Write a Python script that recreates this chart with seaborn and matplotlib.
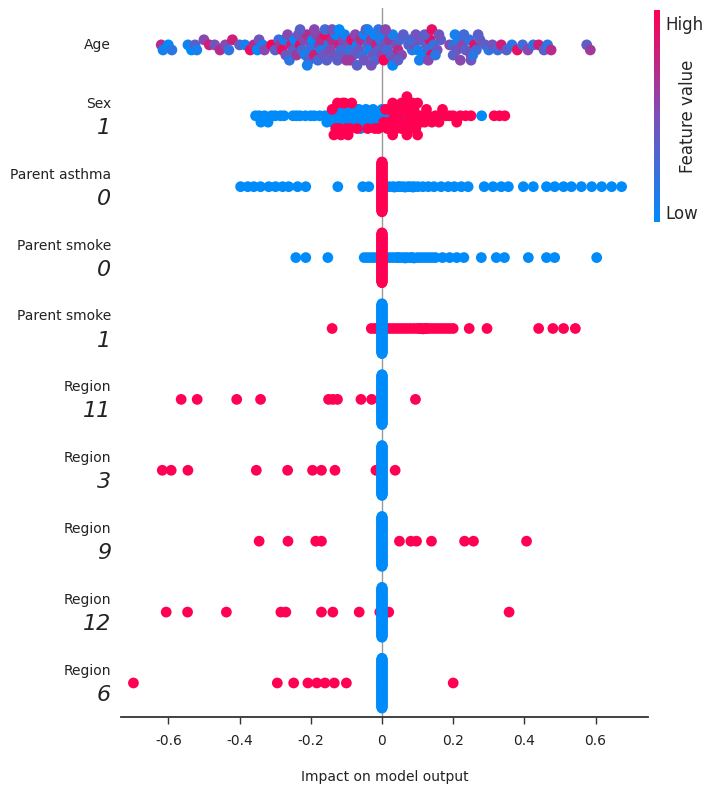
import numpy as np
import pandas as pd
import matplotlib.pyplot as plt
import seaborn as sns
from matplotlib.colors import LinearSegmentedColormap

# rows, top to bottom
feature_names = ["Age", "Sex", "Parent asthma", "Parent smoke", "Parent smoke",
                 "Region", "Region", "Region", "Region", "Region"]
feature_levels = ["", "1", "0", "0", "1", "11", "3", "9", "12", "6"]

# Age: shap value + age in years (colour)
age_shap = [
    -0.62, -0.615, -0.60, -0.59, -0.545, -0.535, -0.525, -0.52, -0.50, -0.485,
    -0.47, -0.455, -0.44, -0.43, -0.42, -0.40, -0.385, -0.37, -0.36, -0.35,
    -0.345, -0.335, -0.33, -0.31, -0.30,
    -0.29, -0.285, -0.28, -0.275, -0.27, -0.265, -0.26, -0.255, -0.25, -0.245,
    -0.24, -0.235, -0.23, -0.225, -0.22, -0.215, -0.21, -0.205, -0.20, -0.20,
    -0.195, -0.19, -0.185, -0.18, -0.175, -0.17, -0.17, -0.165, -0.16, -0.155,
    -0.15, -0.145, -0.14, -0.135, -0.13, -0.125, -0.12, -0.115, -0.11, -0.11,
    -0.105, -0.10, -0.095, -0.09, -0.085, -0.08, -0.075, -0.07, -0.065, -0.06,
    -0.055, -0.05, -0.05, -0.045, -0.04, -0.035, -0.03, -0.025, -0.02, -0.02,
    -0.015, -0.01, -0.005, 0.0, 0.0, 0.005, 0.01, 0.015, 0.02, 0.025,
    0.03, 0.035, 0.04, 0.045, 0.05, 0.055, 0.06,
    -0.23, -0.21, -0.19, -0.16, -0.14, -0.12, -0.09, -0.07, -0.04, -0.03,
    -0.01, 0.01, 0.03, 0.045,
    0.075, 0.085, 0.09, 0.10, 0.11, 0.115, 0.125, 0.13, 0.135, 0.14,
    0.145, 0.155, 0.165, 0.19, 0.20, 0.21, 0.215, 0.225, 0.235, 0.245,
    0.25, 0.26, 0.265, 0.275,
    0.08, 0.095, 0.105, 0.12, 0.13, 0.14, 0.15, 0.16, 0.20, 0.205,
    0.22, 0.23, 0.25, 0.255, 0.27,
    0.29, 0.30, 0.31, 0.325, 0.335, 0.35, 0.365, 0.38, 0.395, 0.41,
    0.425, 0.44, 0.455, 0.465, 0.475, 0.575, 0.585,
]
age_years = [
    14, 7, 6, 8, 7, 6, 10, 7, 12, 15,
    11, 14, 12, 8, 15, 10, 7, 16, 14, 6,
    11, 7, 12, 17, 10,
    9, 13, 16, 7, 11, 12, 8, 15, 10, 6,
    13, 11, 16, 9, 12, 7, 14, 10, 11, 8,
    6, 15, 12, 9, 13, 7, 14, 11, 16, 10,
    8, 12, 14, 11, 6, 10, 15, 9, 12, 10,
    7, 13, 11, 8, 16, 10, 12, 7, 11, 14,
    9, 6, 11, 12, 10, 7, 13, 11, 6, 9,
    15, 10, 8, 12, 7, 17, 11, 9, 13, 10,
    7, 12, 11, 14, 9, 12, 10,
    10, 7, 12, 9, 11, 6, 13, 10, 7, 11,
    8, 12, 6, 10,
    10, 8, 12, 7, 11, 6, 10, 9, 16, 17,
    8, 11, 10, 12, 9, 11, 7, 12, 10, 8,
    13, 16, 9, 11,
    9, 11, 7, 10, 12, 16, 8, 11, 10, 7,
    12, 9, 11, 8, 10,
    10, 8, 11, 9, 15, 10, 8, 16, 9, 12,
    8, 15, 10, 8, 14, 10, 13,
]

# Sex 1: low (blue) and high (red) feature value
sex_low = [
    -0.355, -0.345, -0.34, -0.33, -0.32, -0.31, -0.30, -0.285, -0.275, -0.25,
    -0.24, -0.23, -0.215, -0.20, -0.19, -0.175, -0.16, -0.155, -0.15, -0.14,
    -0.135, -0.13, -0.12, -0.115, -0.11, -0.10, -0.095, -0.09, -0.08, -0.075,
    -0.07, -0.06, -0.055, -0.05, -0.04, -0.035, -0.03, -0.02, -0.015, -0.01,
    -0.005, 0.0, 0.01, 0.03, 0.06, 0.065, 0.10, 0.16, 0.28,
    -0.125, -0.105, -0.10, -0.085, -0.065, -0.06, -0.045, -0.025,
]
sex_high = [
    -0.14, -0.13, -0.125, -0.12, -0.11, -0.10, -0.09, -0.085, -0.07, -0.04,
    -0.02, -0.01, 0.005, 0.01, 0.015, 0.02, 0.02, 0.025, 0.03, 0.03,
    0.035, 0.035, 0.04, 0.04, 0.045, 0.05, 0.05, 0.055, 0.055, 0.06,
    0.06, 0.065, 0.07, 0.07, 0.075, 0.075, 0.08, 0.08, 0.085, 0.09,
    0.09, 0.095, 0.10, 0.10, 0.105, 0.11, 0.115, 0.12, 0.125, 0.13,
    0.14, 0.15, 0.16, 0.17, 0.18, 0.19, 0.20, 0.21, 0.22, 0.235,
    0.25, 0.315, 0.33, 0.345,
    -0.135, -0.115, -0.105, -0.095,
]

# one-hot rows: samples sitting exactly at 0 form the vertical bar
n_at_zero = 120

pa0_low = [
    -0.397, -0.377, -0.36, -0.341, -0.318, -0.299, -0.279, -0.262, -0.237, -0.214,
    -0.124, -0.054, -0.037, 0.02, 0.031, 0.035, 0.045, 0.05, 0.059, 0.065,
    0.073, 0.08, 0.087, 0.09, 0.101, 0.115, 0.13, 0.146, 0.166, 0.186,
    0.203, 0.223, 0.242, 0.287, 0.312, 0.335, 0.355, 0.397, 0.425, 0.462,
    0.485, 0.51, 0.532, 0.56, 0.589, 0.617, 0.645, 0.673,
]
ps0_low = [
    -0.242, -0.214, -0.152, -0.05, -0.04, -0.03, -0.02, -0.01, 0.01, 0.02,
    0.03, 0.04, 0.045, 0.05, 0.06, 0.065, 0.07, 0.08, 0.085, 0.09,
    0.1, 0.11, 0.12, 0.13, 0.14, 0.15, 0.17, 0.19, 0.21, 0.23,
    0.279, 0.321, 0.344, 0.411, 0.462, 0.485, 0.603,
]
ps1_high = [
    -0.14, -0.03, -0.02, -0.01, 0.01, 0.02, 0.03, 0.04, 0.05, 0.06,
    0.07, 0.08, 0.09, 0.1, 0.105, 0.11, 0.115, 0.12, 0.125, 0.13,
    0.14, 0.15, 0.16, 0.17, 0.18, 0.19, 0.2, 0.245, 0.295, 0.44,
    0.48, 0.51, 0.543,
]
r11_high = [-0.564, -0.519, -0.408, -0.341, -0.15, -0.138, -0.125, -0.059, -0.029, 0.094]
r3_high = [-0.617, -0.592, -0.545, -0.353, -0.265, -0.195, -0.17, -0.132, -0.017, 0.037]
r9_high = [-0.345, -0.264, -0.186, -0.17, 0.049, 0.081, 0.097, 0.139, 0.232, 0.257, 0.406]
r12_high = [-0.606, -0.546, -0.437, -0.284, -0.27, -0.17, -0.138, -0.064, -0.006, 0.019, 0.357]
r6_high = [-0.698, -0.294, -0.248, -0.208, -0.183, -0.16, -0.134, -0.1, 0.2]

xticks = [-0.6, -0.4, -0.2, 0, 0.2, 0.4, 0.6]
xtick_labels = ["-0.6", "-0.4", "-0.2", "0", "0.2", "0.4", "0.6"]

cmap = LinearSegmentedColormap.from_list("shap_rb", ["#008bfb", "#7c4fb8", "#ff0052"])


def swarm_offsets(values, nbins=100, half=0.36):
    # shap-style beeswarm: stack points sharing a bin, alternate up/down
    values = np.asarray(values, float)
    quant = np.round(nbins * (values - values.min()) / (values.max() - values.min() + 1e-8))
    ys = np.zeros(len(values))
    layer, last = 0, None
    for i in np.argsort(quant, kind="stable"):
        if quant[i] != last:
            layer = 0
        ys[i] = np.ceil(layer / 2) * ((layer % 2) * 2 - 1)
        layer += 1
        last = quant[i]
    return ys * half / (np.abs(ys).max() + 1)


frames = []


def add_row(row, shap, colour, nbins=100):
    shap = np.asarray(shap, float)
    dy = swarm_offsets(shap, nbins)
    frames.append(pd.DataFrame({"shap": shap, "y": row + dy, "colour": colour}))


age_c = np.array(age_years, float)
age_c = (age_c - age_c.min()) / (age_c.max() - age_c.min())
add_row(0, age_shap, age_c, nbins=45)
add_row(1, sex_low + sex_high, [0.0] * len(sex_low) + [1.0] * len(sex_high), nbins=50)
zeros = [0.0] * n_at_zero
add_row(2, pa0_low + zeros, [0.0] * len(pa0_low) + [1.0] * n_at_zero)
add_row(3, ps0_low + zeros, [0.0] * len(ps0_low) + [1.0] * n_at_zero)
add_row(4, ps1_high + zeros, [1.0] * len(ps1_high) + [0.0] * n_at_zero)
for r, pts in zip(range(5, 10), [r11_high, r3_high, r9_high, r12_high, r6_high]):
    add_row(r, pts + zeros, [1.0] * len(pts) + [0.0] * n_at_zero)
df = pd.concat(frames, ignore_index=True)

sns.set_style("white")
plt.rcParams["font.family"] = ["DejaVu Sans"]

fig = plt.figure(figsize=(7.05, 7.85), dpi=100)
ax = fig.add_axes([0.1716, 0.0866, 0.7475, 0.9032])
ax.axvline(0, color="#999999", lw=1, zorder=-1)
sns.scatterplot(data=df, x="shap", y="y", hue="colour", palette=cmap, hue_norm=(0, 1),
                s=60, linewidth=0, legend=False, ax=ax)

ax.set_xlim(-0.733, 0.747)
ax.set_ylim(9.48, -0.52)
ax.set_yticks([])
ax.set_ylabel("")
ax.set_xticks(xticks)
ax.set_xticklabels(xtick_labels)
ax.set_xlabel("Impact on model output", fontsize=10, labelpad=16, color="#222222")
ax.tick_params(axis="x", direction="out", length=5, width=1, color="#333333",
               labelsize=10, labelcolor="#222222", pad=7, bottom=True)
for side in ["top", "left", "right"]:
    ax.spines[side].set_visible(False)
ax.spines["bottom"].set_color("#333333")
ax.spines["bottom"].set_linewidth(1.3)

# two-part row labels: feature name + level in italics
lab_tf = ax.get_yaxis_transform()
for i, (name, level) in enumerate(zip(feature_names, feature_levels)):
    if level:
        ax.text(-0.019, i - 0.17, name, transform=lab_tf, ha="right", va="center",
                fontsize=10, color="#222222")
        ax.text(-0.019, i + 0.17, level, transform=lab_tf, ha="right", va="center",
                fontsize=16, style="italic", color="#222222")
    else:
        ax.text(-0.019, i, name, transform=lab_tf, ha="right", va="center",
                fontsize=10, color="#222222")

# colour bar
cax = fig.add_axes([0.928, 0.717, 0.0085, 0.270])
sm = plt.cm.ScalarMappable(cmap=cmap, norm=plt.Normalize(0, 1))
cb = fig.colorbar(sm, cax=cax, ticks=[0.05, 0.94])
cb.set_ticklabels(["Low", "High"])
cb.ax.tick_params(length=0, labelsize=12, pad=4)
cb.outline.set_visible(False)
cax.text(5.7, 0.5, "Feature value", transform=cax.transAxes, rotation=90,
         ha="center", va="center", fontsize=12)

fig.savefig("out.png", dpi=100)
